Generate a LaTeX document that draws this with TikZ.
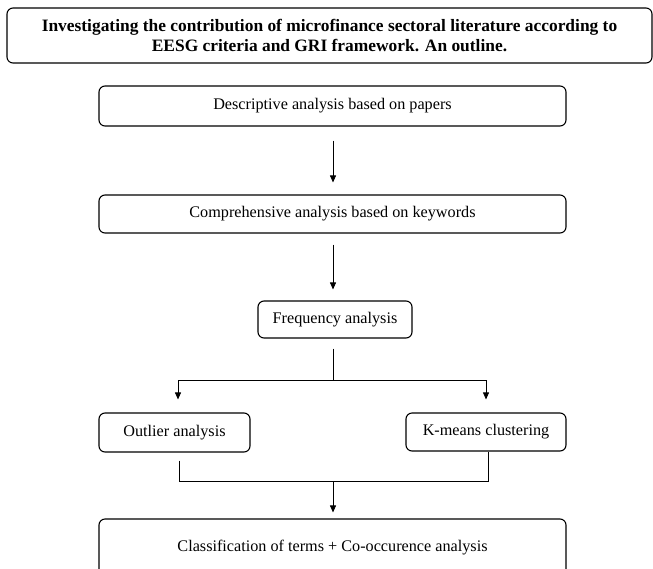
\documentclass[tikz,border=0pt]{standalone}
\usepackage{fontspec}
\setmainfont{Liberation Serif}
\usetikzlibrary{arrows.meta}
\begin{document}
\begin{tikzpicture}[x=1pt,y=1pt,
  stepbox/.style={draw, line width=1.1pt, rounded corners=6pt, align=center,
    inner sep=0pt, font=\fontsize{16.2}{19}\selectfont},
  link/.style={line width=0.8pt},
  arr/.style={link, -{Triangle[length=7pt,width=6pt]}}]
\useasboundingbox (0,0) rectangle (653,-568);
\clip (0,0) rectangle (653,-568);
% boxes
\node[stepbox, minimum width=645pt, minimum height=55pt,
  font=\bfseries\fontsize{17.4}{20}\selectfont] (title) at (329.5,-35.5)
  {Investigating the contribution of microfinance sectoral literature according to\\
   EESG criteria and GRI framework. An outline.};
\node[stepbox, minimum width=467pt, minimum height=40pt] (desc) at (332.5,-106)
  {Descriptive analysis based on papers};
\node[stepbox, minimum width=467pt, minimum height=38pt] (comp) at (332.5,-214)
  {Comprehensive analysis based on keywords};
\node[stepbox, minimum width=154pt, minimum height=37pt] (freq) at (335,-319.5)
  {Frequency analysis};
\node[stepbox, minimum width=151pt, minimum height=39pt] (outl) at (174.5,-432.5)
  {Outlier analysis};
\node[stepbox, minimum width=160pt, minimum height=38pt] (kmeans) at (486,-432)
  {K-means clustering};
\node[stepbox, minimum width=467pt, minimum height=58pt] (classif) at (332.5,-548)
  {Classification of terms + Co-occurence analysis};
% junction points
\coordinate (split) at (333,-380);
\coordinate (splitL) at (178,-380);
\coordinate (splitR) at (486,-380);
\coordinate (joinL) at (179,-481);
\coordinate (joinR) at (488,-481);
\coordinate (join) at (333,-481);
% connectors
\draw[arr, shorten <=14pt, shorten >=12pt] (desc.south -| split) -- (comp.north -| split);
\draw[arr, shorten <=11pt, shorten >=11pt] (comp.south -| split) -- (freq.north -| split);
\draw[link, shorten <=10pt] (freq.south -| split) -- (split);
\draw[link] (splitL) -- (splitR);
\draw[arr, shorten >=13pt] (splitL) -- (outl.north -| splitL);
\draw[arr, shorten >=13pt] (splitR) -- (kmeans.north -| splitR);
\draw[link, shorten <=8pt] (outl.south -| joinL) -- (joinL) -- (joinR) -- (kmeans.south -| joinR);
\draw[arr, shorten >=6pt] (join) -- (classif.north -| join);
\end{tikzpicture}
\end{document}
